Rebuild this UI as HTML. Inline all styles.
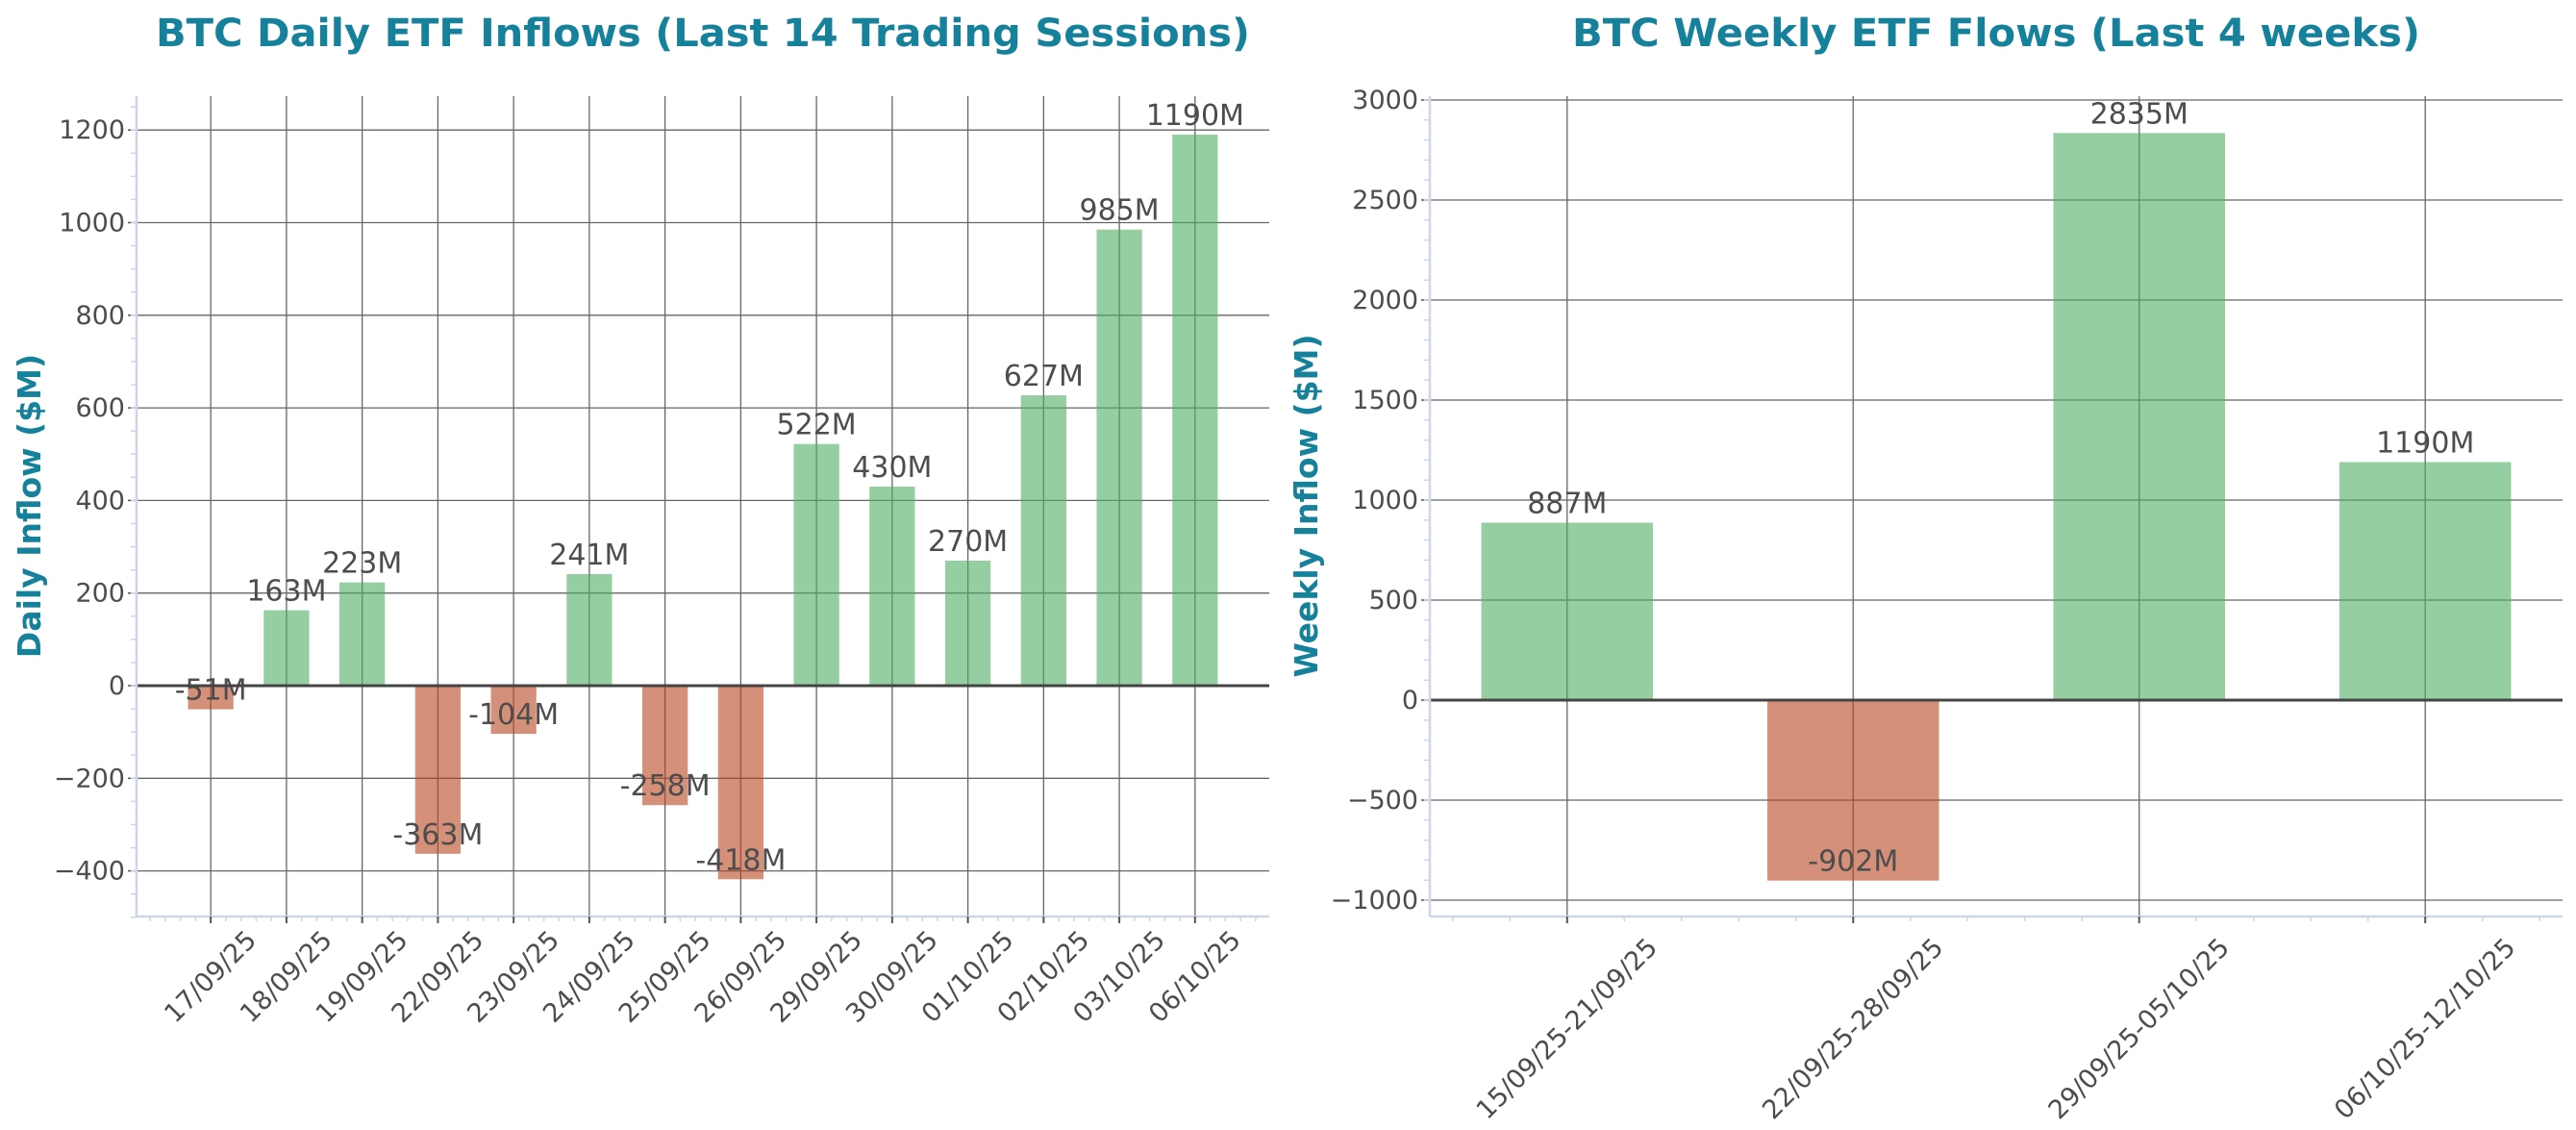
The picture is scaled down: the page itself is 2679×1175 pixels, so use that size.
<!DOCTYPE html>
<html><head><meta charset="utf-8"><style>
html,body{margin:0;padding:0;background:#fff;}
svg{display:block;font-family:"DejaVu Sans","Liberation Sans",sans-serif;}
</style></head><body>
<svg id="chart" width="2679" height="1175" viewBox="0 0 2679 1175" xmlns="http://www.w3.org/2000/svg">
<text x="731" y="48" text-anchor="middle" font-size="40" font-weight="bold" fill="#16819a" textLength="1138" lengthAdjust="spacingAndGlyphs">BTC Daily ETF Inflows (Last 14 Trading Sessions)</text>
<text x="2076" y="48" text-anchor="middle" font-size="40" font-weight="bold" fill="#16819a" textLength="882" lengthAdjust="spacingAndGlyphs">BTC Weekly ETF Flows (Last 4 weeks)</text>
<text transform="translate(42,526) rotate(-90)" text-anchor="middle" font-size="33" font-weight="bold" fill="#16819a">Daily Inflow ($M)</text>
<text transform="translate(1370,526) rotate(-90)" text-anchor="middle" font-size="33" font-weight="bold" fill="#16819a">Weekly Inflow ($M)</text>
<g id="daily"></g>
<g id="weekly"></g>
</svg>
<script>
const dailyCategories = ["17/09/25","18/09/25","19/09/25","22/09/25","23/09/25","24/09/25","25/09/25","26/09/25","29/09/25","30/09/25","01/10/25","02/10/25","03/10/25","06/10/25"];
const dailyValues = [-51,163,223,-363,-104,241,-258,-418,522,430,270,627,985,1190];
const dailyTicks = [-400,-200,0,200,400,600,800,1000,1200];
const weeklyCategories = ["15/09/25-21/09/25","22/09/25-28/09/25","29/09/25-05/10/25","06/10/25-12/10/25"];
const weeklyValues = [887,-902,2835,1190];
const weeklyTicks = [-1000,-500,0,500,1000,1500,2000,2500,3000];

const NS = "http://www.w3.org/2000/svg";
function mk(parent, tag, attrs, text){
  const e = document.createElementNS(NS, tag);
  for (const k in attrs) e.setAttribute(k, attrs[k]);
  if (text !== undefined) e.textContent = text;
  parent.appendChild(e);
  return e;
}
function drawChart(g, cats, vals, ticks, cfg){
  const xs = i => cfg.x0 + (i - cfg.xmin) / (cfg.xmax - cfg.xmin) * (cfg.x1 - cfg.x0);
  const ys = v => cfg.zeroY - v * cfg.pxPerUnit;
  const step = xs(1) - xs(0);
  ticks.forEach(t => {
    const l = mk(g, 'line', {x1:cfg.x0, x2:cfg.x1, y1:ys(t), y2:ys(t), stroke:'#666', 'stroke-width':1.3});
    
    
    mk(g, 'line', {x1:cfg.x0-9, x2:cfg.x0, y1:ys(t), y2:ys(t), stroke:'#555', 'stroke-width':1.5});
    const tl = mk(g, 'text', {x:cfg.x0-12, y:ys(t)+9, 'text-anchor':'end', 'font-size':27, fill:'#4d4d4d'}, t < 0 ? '\u2212' + Math.abs(t) : String(t));
    
    
  });
  cats.forEach((c, i) => {
    const l = mk(g, 'line', {x1:xs(i), x2:xs(i), y1:cfg.y0, y2:cfg.y1, stroke:'#666', 'stroke-width':1.3});
    
    
  });
  vals.forEach((v, i) => {
    const w = step * 0.6;
    const top = Math.min(ys(v), ys(0)), h = Math.abs(ys(v) - ys(0));
    const r = mk(g, 'rect', {x:xs(i)-w/2, y:top, width:w, height:h, fill: v >= 0 ? '#4dad62' : '#b74620', 'fill-opacity':0.6});
    
    
    const t = mk(g, 'text', {x:xs(i), y:ys(v)-10, 'text-anchor':'middle', 'font-size':30, fill:'#4d4d4d'}, v + 'M');
    
    
  });
  const z = mk(g, 'line', {x1:cfg.x0, x2:cfg.x1, y1:ys(0), y2:ys(0), stroke:'#444', 'stroke-width':3});
  
  
  const sl = mk(g, 'line', {x1:cfg.x0, x2:cfg.x0, y1:cfg.y0, y2:cfg.y1, stroke:'#ccd6e6', 'stroke-width':2.5});
  
  
  const sb = mk(g, 'line', {x1:cfg.x0, x2:cfg.x1, y1:cfg.y1, y2:cfg.y1, stroke:'#ccd6e6', 'stroke-width':2.5});
  
  
  for (let v = Math.ceil(cfg.ymin / cfg.minorY) * cfg.minorY; v <= cfg.ymax; v += cfg.minorY) {
    mk(g, 'line', {x1:cfg.x0-6, x2:cfg.x0, y1:ys(v), y2:ys(v), stroke:'#ccd6e6', 'stroke-width':1.5});
  }
  for (let k = Math.ceil(cfg.xmin / 0.2); k * 0.2 <= cfg.xmax; k++) {
    const xv = k * 0.2;
    mk(g, 'line', {x1:xs(xv), x2:xs(xv), y1:cfg.y1, y2:cfg.y1+5, stroke:'#ccd6e6', 'stroke-width':1.5});
  }
  cats.forEach((c, i) => {
    mk(g, 'line', {x1:xs(i), x2:xs(i), y1:cfg.y1, y2:cfg.y1+7, stroke:'#555', 'stroke-width':2});
    const t = mk(g, 'text', {transform:'translate(' + xs(i) + ',' + cfg.labelCY + ') rotate(-45)', 'text-anchor':'middle', 'dominant-baseline':'central', 'font-size':27, fill:'#4d4d4d'}, c);
    
    
  });
}
drawChart(document.getElementById('daily'), dailyCategories, dailyValues, dailyTicks,
  {x0:142, x1:1320, xmin:-0.98, xmax:13.98, y0:100, y1:953, zeroY:713, pxPerUnit:96.3/200, ymin:-500, ymax:1273, minorY:50, labelCY:1016});
drawChart(document.getElementById('weekly'), weeklyCategories, weeklyValues, weeklyTicks,
  {x0:1487, x1:2665, xmin:-0.48, xmax:3.48, y0:100, y1:953, zeroY:728, pxPerUnit:104/500, ymin:-1077, ymax:3019, minorY:100, labelCY:1070});
</script>
</body></html>
